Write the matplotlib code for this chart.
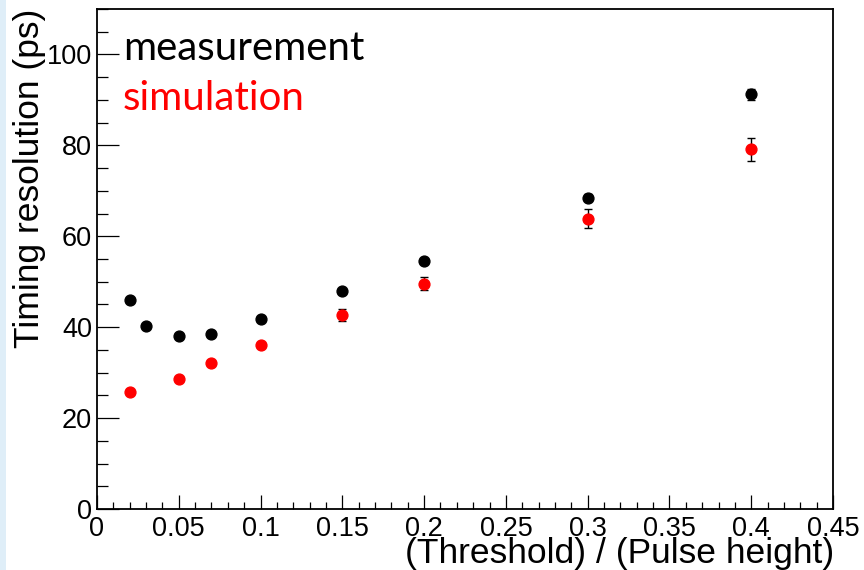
import matplotlib
matplotlib.use("Agg")
import matplotlib.pyplot as plt
from matplotlib.patches import Rectangle
from matplotlib.ticker import MultipleLocator, FuncFormatter

# Data
thr_meas = [0.02, 0.03, 0.05, 0.07, 0.10, 0.15, 0.20, 0.30, 0.40]
res_meas = [45.9, 40.2, 38.0, 38.6, 41.9, 47.9, 54.5, 68.5, 91.2]
err_meas = [0.5, 0.5, 0.5, 0.5, 0.5, 0.6, 0.6, 0.7, 1.25]

thr_sim = [0.02, 0.05, 0.07, 0.10, 0.15, 0.20, 0.30, 0.40]
res_sim = [25.8, 28.6, 32.2, 36.1, 42.7, 49.6, 63.9, 79.1]
err_sim = [0.5, 0.5, 0.5, 0.5, 1.3, 1.5, 2.05, 2.5]

x_ticks = [0, 0.05, 0.1, 0.15, 0.2, 0.25, 0.3, 0.35, 0.4, 0.45]
y_ticks = [0, 20, 40, 60, 80, 100]

W, H = 864, 570
fig = plt.figure(figsize=(W / 100, H / 100), dpi=100)
fig.patch.set_facecolor("white")
fig.patches.append(Rectangle((0, 0), 6 / W, 1, transform=fig.transFigure,
                             facecolor="#dfeef8", edgecolor="none", zorder=0))

ax = fig.add_axes([97 / W, 1 - 509 / H, (833 - 97) / W, (509 - 9) / H])

ax.errorbar(thr_meas, res_meas, yerr=err_meas, fmt="o", color="black",
            ecolor="black", elinewidth=1.0, capsize=3, capthick=1.0,
            markersize=7.8, zorder=3)
ax.errorbar(thr_sim, res_sim, yerr=err_sim, fmt="o", color="#ff0000",
            ecolor="black", elinewidth=1.0, capsize=3, capthick=1.0,
            markersize=7.8, zorder=3)

ax.set_xlim(0, 0.45)
ax.set_ylim(0, 110)
ax.set_xticks(x_ticks)
ax.set_yticks(y_ticks)
ax.xaxis.set_minor_locator(MultipleLocator(0.01))
ax.yaxis.set_minor_locator(MultipleLocator(5))
ax.xaxis.set_major_formatter(FuncFormatter(lambda v, p: ("%g" % round(v, 3))))
ax.yaxis.set_major_formatter(FuncFormatter(lambda v, p: "%d" % v))

font = "Liberation Sans"
ax.tick_params(axis="both", which="both", direction="in", top=False, right=False)
ax.tick_params(axis="x", which="major", length=10, width=0.9, pad=5,
               labelsize=19.5)
ax.tick_params(axis="x", which="minor", length=5.4, width=0.9)
ax.tick_params(axis="y", which="major", length=15.8, width=0.9, pad=3.5,
               labelsize=19.5)
ax.tick_params(axis="y", which="minor", length=7.9, width=0.9)
for lab in ax.get_xticklabels() + ax.get_yticklabels():
    lab.set_fontfamily(font)
for s in ax.spines.values():
    s.set_linewidth(1.3)

fig.text(30 / W, 1 - 9 / H, "Timing resolution (ps)", rotation=90,
         ha="center", va="top", fontsize=25.5, family=font)
fig.text(834 / W, 1 - 563 / H, "(Threshold) / (Pulse height)",
         ha="right", va="baseline", fontsize=25.5, family=font)

fig.text(123 / W, 1 - 60 / H, "measurement", color="black",
         ha="left", va="baseline", fontsize=29, family="Lato")
fig.text(123 / W, 1 - 110 / H, "simulation", color="#ff0000",
         ha="left", va="baseline", fontsize=29, family="Lato")

fig.savefig("out.png", dpi=100)
